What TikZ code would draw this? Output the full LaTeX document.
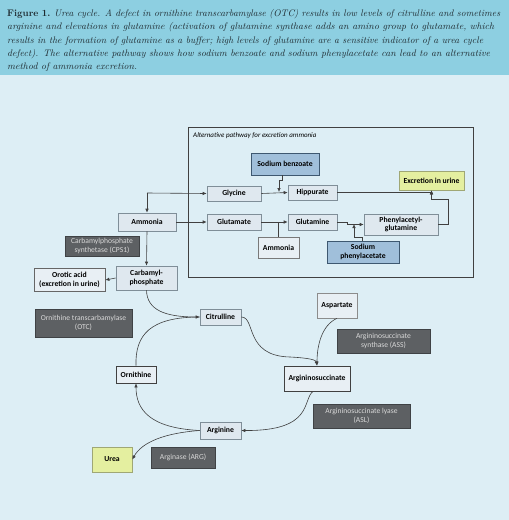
\documentclass[tikz,border=0pt]{standalone}
\usepackage{fontspec}
\newfontfamily\diag{Carlito}
\usetikzlibrary{arrows.meta,calc,shadows}
\definecolor{bgc}{HTML}{DDEEF5}
\definecolor{capc}{HTML}{8DCFE1}
\definecolor{lightf}{HTML}{DFE8EF}
\definecolor{lightd}{HTML}{7F8E98}
\definecolor{whitef}{HTML}{E8EFF4}
\definecolor{bluef}{HTML}{A0BFDA}
\definecolor{blued}{HTML}{3E5870}
\definecolor{darkf}{HTML}{5D6063}
\definecolor{darkd}{HTML}{3F4245}
\definecolor{yelf}{HTML}{E4EFA0}
\definecolor{yeld}{HTML}{9FA775}
\definecolor{linec}{HTML}{404040}
\definecolor{captext}{HTML}{1E2A30}
\tikzset{
  box/.style={rectangle, inner sep=0pt, align=center, font=\diag\bfseries\fontsize{7.7}{8.6}\selectfont,
    drop shadow={opacity=0.25, shadow xshift=0.8pt, shadow yshift=-0.8pt}},
  lightbox/.style={box, fill=lightf, draw=lightd, line width=0.6pt},
  whitebox/.style={box, fill=whitef, draw=linec, line width=0.7pt},
  bluebox/.style={box, fill=bluef, draw=blued, line width=0.6pt},
  darkbox/.style={box, fill=darkf, draw=darkd, line width=0.6pt, text=white!85!black, font=\diag\fontsize{7.6}{9}\selectfont},
  yelbox/.style={box, fill=yelf, draw=yeld, line width=0.6pt},
  arr/.style={draw=linec, line width=0.6pt, -{Latex[length=4pt,width=3.5pt]}},
  ln/.style={draw=linec, line width=0.6pt},
  capline/.style={anchor=base west, inner sep=0pt, text=captext, font=\fontsize{9.5}{11}\selectfont\itshape}
}
\begin{document}
\begin{tikzpicture}[x=1pt,y=-1pt]
\useasboundingbox (0,0) rectangle (509,520);
\fill[bgc] (0,0) rectangle (509,520);
\fill[capc] (0,0) rectangle (509,75);
% caption
\node[capline] (c1) at (7,16) {\resizebox{493pt}{\height}{\upshape\bfseries Figure \oldstylenums{1}.\ \mdseries\itshape Urea cycle. A defect in ornithine transcarbamylase (OTC) results in low levels of citrulline and sometimes}};
\node[capline] (c2) at (7,29.5) {\resizebox{487pt}{\height}{arginine and elevations in glutamine (activation of glutamine synthase adds an amino group to glutamate, which}};
\node[capline] (c3) at (7,43) {\resizebox{476pt}{\height}{results in the formation of glutamine as a buffer; high levels of glutamine are a sensitive indicator of a urea cycle}};
\node[capline] (c4) at (7,56) {\resizebox{483pt}{\height}{defect). The alternative pathway shows how sodium benzoate and sodium phenylacetate can lead to an alternative}};
\node[capline] (c5) at (7,69.5) {\resizebox{130pt}{\height}{method of ammonia excretion.}};
% alternative pathway frame
\draw[linec, line width=0.7pt] (188,127) rectangle (473,277);
\node[anchor=west, inner sep=0pt, font=\diag\itshape\fontsize{7}{8}\selectfont] (alt) at (193,136) {Alternative pathway for excretion ammonia};
% nodes
\node[bluebox, minimum width=68pt, minimum height=22pt] (sodben) at (285,164) {Sodium benzoate};
\node[lightbox, minimum width=54pt, minimum height=15pt] (glycine) at (234,193.5) {Glycine};
\node[lightbox, minimum width=49pt, minimum height=15pt] (hippurate) at (312.5,192.5) {Hippurate};
\node[yelbox, minimum width=65pt, minimum height=19pt] (excretion) at (431.5,180.5) {Excretion in urine};
\node[lightbox, minimum width=54pt, minimum height=16pt] (glutamate) at (234,222) {Glutamate};
\node[lightbox, minimum width=49pt, minimum height=16pt] (glutamine) at (312.5,222) {Glutamine};
\node[lightbox, minimum width=74pt, minimum height=21pt] (phenyl) at (401,224.5) {Phenylacetyl-\\glutamine};
\node[whitebox, draw=linec!70, minimum width=41pt, minimum height=21pt] (ammonia2) at (278.5,247.5) {Ammonia};
\node[bluebox, minimum width=72pt, minimum height=22pt] (sodphen) at (363,252) {Sodium\\phenylacetate};
\node[lightbox, minimum width=58pt, minimum height=18pt] (ammonia) at (147,222) {Ammonia};
\node[darkbox, minimum width=74pt, minimum height=20pt] (cps) at (102,246) {Carbamylphosphate\\synthetase (CPS1)};
\node[lightbox, minimum width=61pt, minimum height=24pt] (carbp) at (146.5,278) {Carbamyl-\\phosphate};
\node[whitebox, draw=linec!80, minimum width=71pt, minimum height=23pt] (orotic) at (69.5,280) {Orotic acid\\(excretion in urine)};
\node[darkbox, minimum width=97pt, minimum height=28pt] (otc) at (83.5,323) {Ornithine transcarbamylase\\(OTC)};
\node[lightbox, minimum width=41pt, minimum height=16pt] (citrulline) at (220.5,317) {Citrulline};
\node[whitebox, minimum width=40pt, minimum height=17pt] (ornithine) at (136,374.5) {Ornithine};
\node[whitebox, minimum width=66pt, minimum height=25pt] (argsuc) at (317,378.5) {Argininosuccinate};
\node[whitebox, draw=linec!60, minimum width=40pt, minimum height=25pt] (aspartate) at (337,305.5) {Aspartate};
\node[darkbox, minimum width=93pt, minimum height=24pt] (ass) at (383.5,341) {Argininosuccinate\\synthase (ASS)};
\node[darkbox, minimum width=97pt, minimum height=24pt] (asl) at (361.5,416) {Argininosuccinate lyase\\(ASL)};
\node[lightbox, minimum width=41pt, minimum height=17pt] (arginine) at (220.5,430.5) {Arginine};
\node[yelbox, minimum width=40pt, minimum height=25pt] (urea) at (112,459.5) {Urea};
\node[darkbox, minimum width=64pt, minimum height=21pt] (arg) at (183,457.5) {Arginase (ARG)};
% connectors in the frame
\coordinate (j1) at (147,193);
\draw[arr] (j1) -- (ammonia.north);
\draw[arr] (j1) -- (glycine.west);
\draw[arr] (ammonia.east) -- (glutamate.west);
\draw[arr] (glycine.east) -- (hippurate.west);
\coordinate (sb) at (279,192);
\draw[arr] ([xshift=-3pt]sodben.south) -- ++(0,5) -| (sb);
\draw[arr] (hippurate.east) -| (excretion.south);
\coordinate (ph) at ($(excretion.south)+(0,9)$);
\draw[arr] (phenyl.east) -- ++(10,0) |- (ph) -- (excretion.south);
\draw[arr] (glutamate.east) -- (glutamine.west);
\draw[ln] (ammonia2.north) -- (ammonia2.north |- glutamate.east);
\draw[arr] (glutamine.east) -- ++(10,0) |- (phenyl.west);
\coordinate (sp) at (354,224);
\draw[arr] ([xshift=-1pt]sodphen.north) -- ++(0,-3) -| (sp);
% urea cycle
\draw[arr] (ammonia.south) -- (carbp.north);
\draw[arr] (carbp.west) -- (orotic.east);
\draw[arr] (carbp.south) .. controls (147,310) and (165,317) .. (citrulline.west);
\draw[ln] (ornithine.north) .. controls (135,335) and (150,317) .. (citrulline.west);
\draw[arr] (citrulline.east) .. controls (256,317) and (244,356) .. (290,357) .. controls (310,358) and (316,360) .. (argsuc.north);
\draw[arr] (aspartate.south) .. controls (322,325) and (317,345) .. (argsuc.north);
\draw[arr] ([xshift=-4pt]argsuc.south) .. controls (302,400) and (314,431) .. (arginine.east);
\draw[arr] (arginine.west) .. controls (150,428) and (136,410) .. (ornithine.south);
\draw[arr] (arginine.west) .. controls (165,433) and (142,442) .. (urea.east);
\end{tikzpicture}
\end{document}
